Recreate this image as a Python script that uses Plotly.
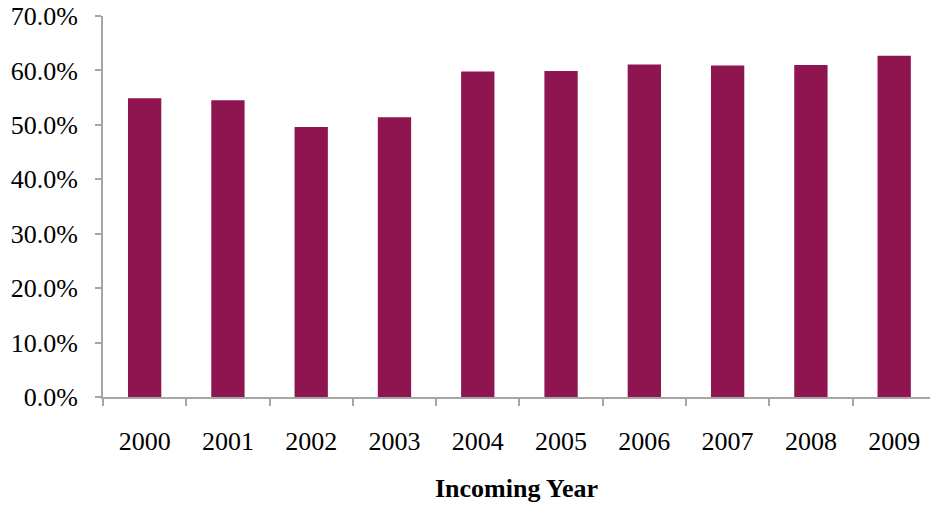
import plotly.graph_objects as go

years = ["2000", "2001", "2002", "2003", "2004", "2005", "2006", "2007", "2008", "2009"]
rates = [54.9, 54.5, 49.6, 51.4, 59.8, 59.9, 61.1, 60.9, 61.0, 62.7]
y_ticks = [0, 10, 20, 30, 40, 50, 60, 70]

fig = go.Figure()
fig.add_trace(go.Bar(x=years, y=rates, marker=dict(color="#8E1550", line=dict(width=0))))

axis_color = "#A6A6A6"
font_family = "Liberation Serif"

fig.update_layout(
    width=930, height=506,
    margin=dict(l=103, r=0, t=16, b=109),
    paper_bgcolor="white", plot_bgcolor="white",
    bargap=0.6,
    showlegend=False,
    font=dict(family=font_family, color="black", size=26),
    xaxis=dict(
        type="category",
        range=[-0.5, 9.43],
        showline=True, linecolor=axis_color, linewidth=2,
        ticks="outside", tickson="boundaries", ticklen=7, tickcolor=axis_color, tickwidth=2,
        ticklabelstandoff=20,
        tickfont=dict(family=font_family, size=26),
        showgrid=False,
        title=dict(text="<b>Incoming Year</b>", font=dict(family=font_family, size=26), standoff=24),
    ),
    yaxis=dict(
        range=[0, 70],
        tickvals=y_ticks,
        ticktext=[f"{v:.1f}%" for v in y_ticks],
        showline=True, linecolor=axis_color, linewidth=2,
        ticks="outside", ticklen=6, tickcolor=axis_color, tickwidth=2,
        ticklabelstandoff=12,
        tickfont=dict(family=font_family, size=26),
        showgrid=False, zeroline=False,
    ),
)

fig.write_html("out.html")
